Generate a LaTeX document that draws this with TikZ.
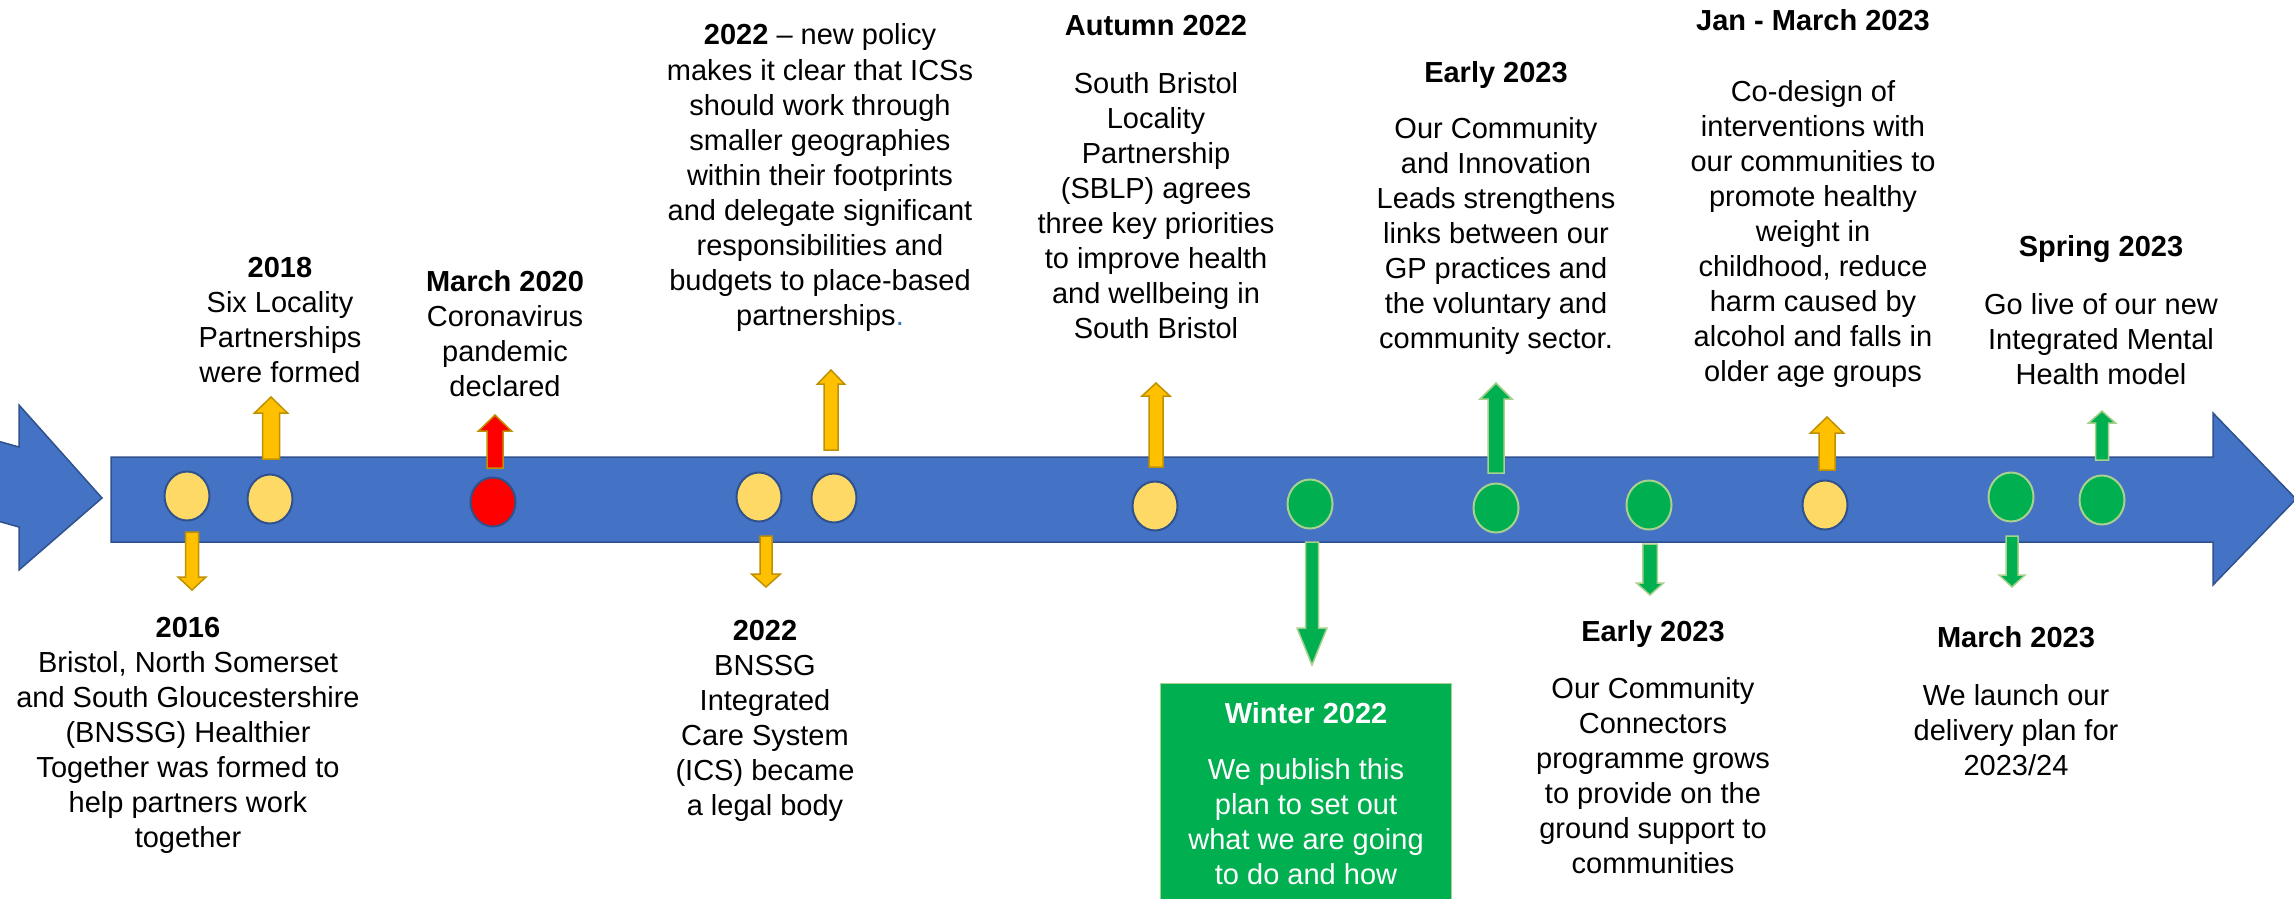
\documentclass[tikz,border=0pt]{standalone}
\usepackage{fontspec}
\setmainfont{Liberation Sans}
\usetikzlibrary{shapes.geometric}

\definecolor{barblue}{HTML}{4472C4}
\definecolor{barline}{HTML}{2F528F}
\definecolor{dotgold}{HTML}{FFD966}
\definecolor{arrgold}{HTML}{FFC000}
\definecolor{arrgoldline}{HTML}{BF9000}
\definecolor{evgreen}{HTML}{00B050}
\definecolor{evgreenline}{HTML}{A9D18E}
\definecolor{evred}{HTML}{FF0000}
\definecolor{linkblue}{HTML}{2E75B6}

% vertical block arrow: style, centre x, tail y, head base y, tip y, half shaft width, half head width
\newcommand\blkarrow[7]{%
  \draw[#1] (#2-#6,#3) -- (#2-#6,#4) -- (#2-#7,#4) -- (#2,#5) -- (#2+#7,#4)
            -- (#2+#6,#4) -- (#2+#6,#3) -- cycle;}

\tikzset{
  bararrow/.style={fill=barblue, draw=barline, line width=1.5, line join=miter},
  dot/.style={ellipse, minimum width=45, minimum height=49, inner sep=0, line width=2},
  golddot/.style={dot, fill=dotgold, draw=barline},
  reddot/.style={dot, fill=evred, draw=barline},
  greendot/.style={dot, fill=evgreen, draw=evgreenline},
  goldarr/.style={fill=arrgold, draw=arrgoldline, line width=1.5, line join=miter},
  redarr/.style={fill=evred, draw=arrgoldline, line width=1.5, line join=miter},
  greenarr/.style={fill=evgreen, draw=evgreenline, line width=1.5, line join=miter},
  eventtext/.style={font=\fontsize{29}{35.1}\selectfont, inner sep=0, anchor=base, text=black},
  wintertext/.style={eventtext, text=white},
  winterbox/.style={rectangle, fill=evgreen, draw=evgreenline, line width=1,
    minimum width=291, minimum height=240, inner sep=0, anchor=north west},
}

\newcommand\lines[1]{\begin{tabular}[t]{@{}c@{}}#1\end{tabular}}

\begin{document}
\begin{tikzpicture}[x=1pt, y=-1pt]
\useasboundingbox (0,0) rectangle (2294,899);

% left entry arrow and main timeline arrow
\draw[bararrow] (-6,440) -- (19,447) -- (19,405) -- (102,498) -- (19,570)
  -- (19,527) -- (-6,520) -- cycle;
\draw[bararrow] (111,457) -- (2213,457) -- (2213,413) -- (2296,499) -- (2213,585)
  -- (2213,542) -- (111,542) -- cycle;

% pointers to the event texts
\blkarrow{goldarr}{192}{532}{577}{590}{6.5}{14}
\blkarrow{goldarr}{271}{459}{413}{397}{8.5}{16.5}
\blkarrow{redarr}{495}{468}{431}{415}{8}{16.5}
\blkarrow{goldarr}{766}{536}{574}{587}{6}{14.5}
\blkarrow{goldarr}{831}{450}{384}{370}{7}{13.5}
\blkarrow{goldarr}{1156}{467}{396}{383}{7}{14}
\blkarrow{greenarr}{1312}{542}{628}{665}{6.5}{15}
\blkarrow{greenarr}{1496}{473}{399}{383}{8}{16}
\blkarrow{greenarr}{1650}{544}{583}{595}{7.25}{13.5}
\blkarrow{goldarr}{1827}{470}{433}{417}{8}{16.5}
\blkarrow{greenarr}{2012}{536}{575}{587}{6}{13}
\blkarrow{greenarr}{2102}{460}{423}{411}{6.5}{13.5}

% milestones on the timeline
\node[golddot]  (d2016)   at (187,496) {};
\node[golddot]  (d2018)   at (270,499) {};
\node[reddot]   (d2020)   at (493,502) {};
\node[golddot]  (dics)    at (759,497) {};
\node[golddot]  (dpolicy) at (834,498) {};
\node[golddot]  (dautumn) at (1155,506) {};
\node[greendot] (dwinter) at (1310,504) {};
\node[greendot] (dleads)  at (1496,508) {};
\node[greendot] (dconn)   at (1649,505) {};
\node[golddot]  (dcodes)  at (1825,505) {};
\node[greendot] (dplan)   at (2011,497) {};
\node[greendot] (dmental) at (2102,500) {};

% events above the timeline
\node[eventtext] (t2018) at (280,277) {\lines{\textbf{2018}\\Six Locality\\Partnerships\\were formed}};
\node[eventtext] (t2020) at (505,291) {\lines{\textbf{March 2020}\\Coronavirus\\pandemic\\declared}};
\node[eventtext] (tpolicy) at (820,45) {\lines{\textbf{2022} -- new policy\\makes it clear that ICSs\\should work through\\smaller geographies\\within their footprints\\and delegate significant\\responsibilities and\\budgets to place-based\\partnerships{\color{linkblue}.}}};
\node[eventtext] (tautumn) at (1156,36) {\lines{\textbf{Autumn 2022}\\[22pt]South Bristol\\Locality\\Partnership\\(SBLP) agrees\\three key priorities\\to improve health\\and wellbeing in\\South Bristol}};
\node[eventtext] (tleads) at (1496,82) {\lines{\textbf{Early 2023}\\[21pt]Our Community\\and Innovation\\Leads strengthens\\links between our\\GP practices and\\the voluntary and\\community sector.}};
\node[eventtext] (tcodes) at (1813,31) {\lines{\textbf{Jan - March 2023}\\[35pt]Co-design of\\interventions with\\our communities to\\promote healthy\\weight in\\childhood, reduce\\harm caused by\\alcohol and falls in\\older age groups}};
\node[eventtext] (tmental) at (2101,256) {\lines{\textbf{Spring 2023}\\[23pt]Go live of our new\\Integrated Mental\\Health model}};

% events below the timeline
\node[eventtext] (t2016) at (188,637) {\lines{\textbf{2016}\\Bristol, North Somerset\\and South Gloucestershire\\(BNSSG) Healthier\\Together was formed to\\help partners work\\together}};
\node[eventtext] (tics) at (765,640) {\lines{\textbf{2022}\\BNSSG\\Integrated\\Care System\\(ICS) became\\a legal body}};
\node[winterbox] (winter) at (1160,683) {};
\node[wintertext] (twinter) at (1306,723) {\lines{\textbf{Winter 2022}\\[21pt]We publish this\\plan to set out\\what we are going\\to do and how}};
\node[eventtext] (tconn) at (1653,641) {\lines{\textbf{Early 2023}\\[22pt]Our Community\\Connectors\\programme grows\\to provide on the\\ground support to\\communities}};
\node[eventtext] (tplan) at (2016,647) {\lines{\textbf{March 2023}\\[23pt]We launch our\\delivery plan for\\2023/24}};
\end{tikzpicture}
\end{document}
